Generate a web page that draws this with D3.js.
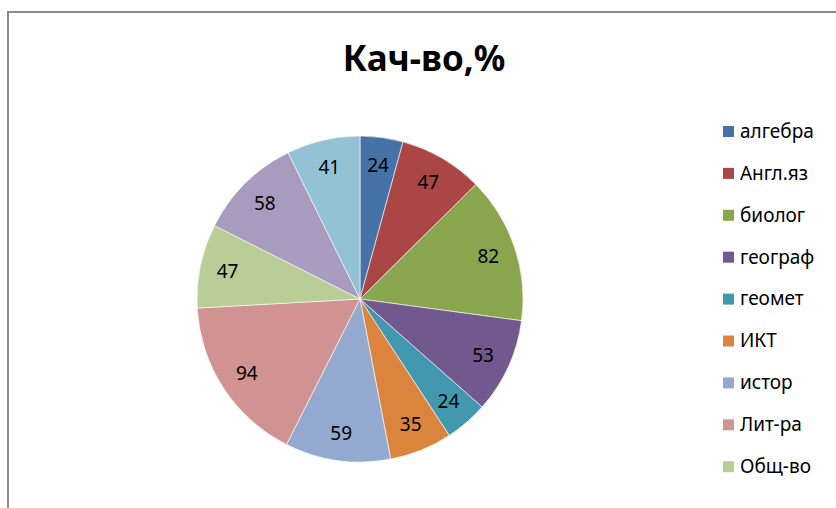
<!DOCTYPE html>
<html>
<head>
<meta charset="utf-8">
<script src="https://cdn.jsdelivr.net/npm/d3@7"></script>
<style>
  html, body { margin: 0; padding: 0; background: #fff; overflow: hidden; }
</style>
</head>
<body>
<script>
// chart data
var subjects = ["алгебра", "Англ.яз", "биолог", "географ", "геомет", "ИКТ", "истор", "Лит-ра", "Общ-во", "Рус.яз", "физика"];
var quality_values = [24, 47, 82, 53, 24, 35, 59, 94, 47, 58, 41];
var slice_colors = ["#4572A7", "#AA4643", "#89A54E", "#71588F", "#4198AF", "#DB843D",
                    "#93A9CF", "#D19392", "#B9CD96", "#A99BBD", "#92C3D5"];
// Excel cut the legend off after 9 entries
var legend_count = 9;

var width = 836, height = 508;
var font_family = "'Noto Sans', 'Open Sans', sans-serif";

var svg = d3.select("body").append("svg")
    .attr("width", width)
    .attr("height", height);

// chart area border (only top + left edges are visible in the crop)
svg.append("path")
    .attr("d", "M8,508 V12 H836")
    .attr("fill", "none")
    .attr("stroke", "#8a8a8a")
    .attr("stroke-width", 2);

// Title
svg.append("text")
    .attr("x", 424)
    .attr("y", 71)
    .attr("text-anchor", "middle")
    .style("font-family", font_family)
    .style("font-size", "35px")
    .style("font-weight", "bold")
    .style("fill", "#000")
    .text("Кач-во,%");

var pie_radius = 163;
var pie_group = svg.append("g")
    .attr("transform", "translate(" + 360 + "," + 299 + ")");

var color_scale = d3.scaleOrdinal().domain(subjects).range(slice_colors);

var pie_gen = d3.pie().sort(null).value(function (d) { return d.value; });
var arc_gen = d3.arc().innerRadius(0).outerRadius(pie_radius);
// labels sit at about 83% of the radius
var label_arc = d3.arc().innerRadius(pie_radius * 0.83).outerRadius(pie_radius * 0.83);

var pie_data = subjects.map(function (name, i) { return { name: name, value: quality_values[i] }; });

var slices = pie_group.selectAll(".slice")
    .data(pie_gen(pie_data))
    .enter()
    .append("g")
    .attr("class", "slice");

slices.append("path")
    .attr("d", arc_gen)
    .attr("fill", function (d) { return color_scale(d.data.name); })
    .attr("stroke", "#fff")
    .attr("stroke-width", 0.6);

slices.append("text")
    .attr("transform", function (d) { return "translate(" + label_arc.centroid(d) + ")"; })
    .attr("text-anchor", "middle")
    .attr("dy", "0.36em")
    .style("font-family", font_family)
    .style("font-size", "19px")
    .style("fill", "#000")
    .text(function (d) { return d.data.value; });

// Legend
var legend_x = 723, legend_y = 131, legend_step = 41.9;
var legend = svg.append("g");
var legend_rows = legend.selectAll(".legend-row")
    .data(subjects.slice(0, legend_count))
    .enter()
    .append("g")
    .attr("class", "legend-row")
    .attr("transform", function (d, i) { return "translate(" + legend_x + "," + (legend_y + i * legend_step) + ")"; });

legend_rows.append("rect")
    .attr("x", 0)
    .attr("y", -5)
    .attr("width", 11)
    .attr("height", 11)
    .attr("fill", function (d) { return color_scale(d); });

legend_rows.append("text")
    .attr("x", 17)
    .attr("dy", "0.36em")
    .style("font-family", font_family)
    .style("font-size", "19px")
    .style("fill", "#000")
    .text(function (d) { return d; });
</script>
</body>
</html>
